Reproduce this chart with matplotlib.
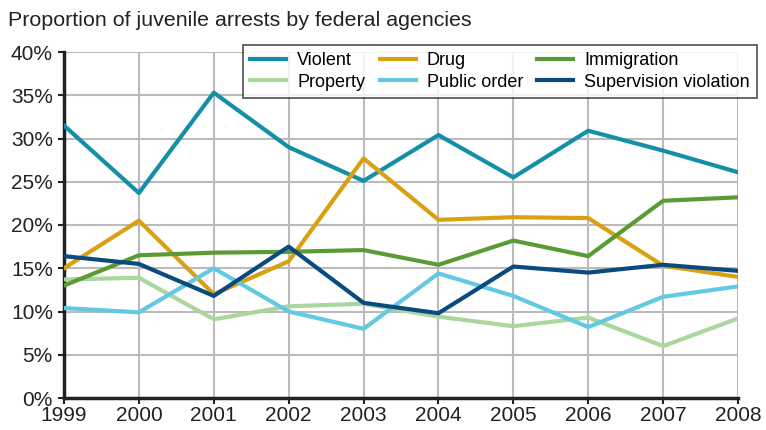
import matplotlib
matplotlib.use("Agg")
import matplotlib.pyplot as plt
from matplotlib.ticker import FuncFormatter

years = [1999, 2000, 2001, 2002, 2003, 2004, 2005, 2006, 2007, 2008]

violent = [31.5, 23.7, 35.3, 29.0, 25.1, 30.4, 25.5, 30.9, 28.6, 26.1]
drug = [15.0, 20.5, 12.0, 15.8, 27.7, 20.6, 20.9, 20.8, 15.3, 14.0]
immigration = [13.0, 16.5, 16.8, 16.9, 17.1, 15.4, 18.2, 16.4, 22.8, 23.2]
property_ = [13.7, 13.9, 9.1, 10.6, 10.9, 9.4, 8.3, 9.3, 6.0, 9.2]
public_order = [10.4, 9.9, 15.0, 10.0, 8.0, 14.4, 11.8, 8.2, 11.7, 12.9]
supervision = [16.4, 15.5, 11.8, 17.5, 11.0, 9.8, 15.2, 14.5, 15.4, 14.7]

series = [
    ("Violent", violent, "#1390a8"),
    ("Property", property_, "#a9d79e"),
    ("Drug", drug, "#d9a012"),
    ("Public order", public_order, "#62c9e2"),
    ("Immigration", immigration, "#5a9b36"),
    ("Supervision violation", supervision, "#0b4a7e"),
]

plt.rcParams["font.family"] = ["Liberation Sans", "DejaVu Sans"]

fig = plt.figure(figsize=(7.66, 4.3), dpi=100)
ax = fig.add_axes([64 / 766, 32 / 430, 674 / 766, 346 / 430])

handles = {}
for name, vals, color in series:
    (line,) = ax.plot(years, vals, color=color, lw=3, label=name, zorder=3)
    handles[name] = line

ax.set_xlim(1999, 2008)
ax.set_ylim(0, 40)
ax.set_xticks(years)
ax.set_yticks(range(0, 41, 5))
ax.yaxis.set_major_formatter(FuncFormatter(lambda v, _: f"{int(v)}%"))
ax.tick_params(labelsize=15, colors="#222222", length=4, width=1.5, direction="out")
ax.tick_params(axis="x", pad=2)
ax.tick_params(axis="y", pad=4)
ax.grid(True, color="#bbbbbb", lw=1.5, zorder=0)
for side in ("top", "right"):
    ax.spines[side].set_visible(False)
for side in ("left", "bottom"):
    ax.spines[side].set_linewidth(2.5)
    ax.spines[side].set_color("#222222")

fig.text(8 / 766, 1 - 20 / 430, "Proportion of juvenile arrests by federal agencies",
         fontsize=15.4, color="#222222", va="center")

order = ["Violent", "Property", "Drug", "Public order", "Immigration", "Supervision violation"]
leg = fig.legend([handles[n] for n in order], order, ncol=3,
                 loc="upper left", bbox_to_anchor=(243 / 766, 1 - 45 / 430),
                 fontsize=13, frameon=True, fancybox=False, handlelength=2.0,
                 columnspacing=0.8, handletextpad=0.6, borderpad=0.4,
                 labelspacing=0.25, borderaxespad=0)
leg.get_frame().set_edgecolor("#222222")
leg.get_frame().set_linewidth(1.2)

fig.savefig("out.png", dpi=100)
